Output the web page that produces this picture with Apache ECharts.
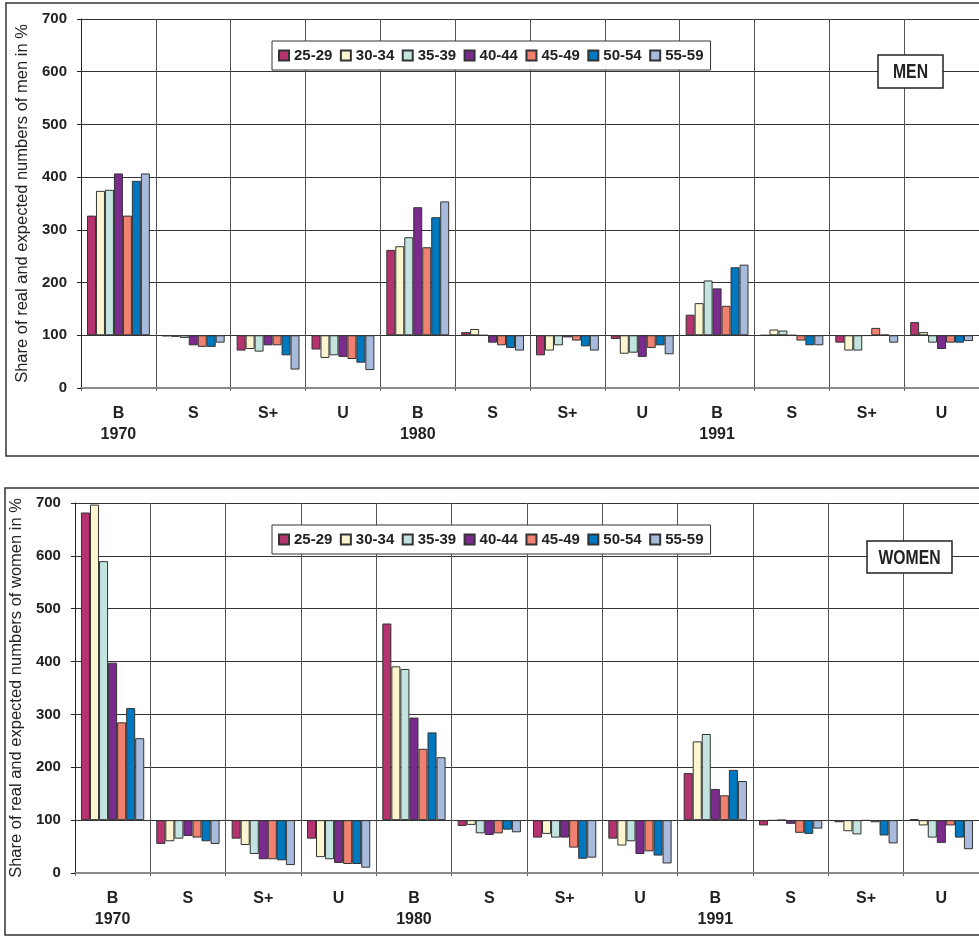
<!DOCTYPE html>
<html>
<head>
<meta charset="utf-8">
<script src="https://cdn.jsdelivr.net/npm/echarts@6/dist/echarts.min.js"></script>
<style>
html,body{margin:0;padding:0;background:#fff;}
#chart{width:979px;height:937px;}
</style>
</head>
<body>
<div id="chart"></div>
<script>
// ---- data ----
var groups = ['B','S','S+','U','B','S','S+','U','B','S','S+','U'];
var years  = ['1970','','','','1980','','','','1991','','',''];
var ages   = ['25-29','30-34','35-39','40-44','45-49','50-54','55-59'];
var colors = ['#B5336E','#FBF6CF','#C2E3E0','#7B2A8E','#F08070','#0078C0','#A9BBDD'];
var yTicks = [0,100,200,300,400,500,600,700];
var baseLine = 100;

var men_25_29 = [327, 98, 71, 73, 262, 106, 62, 93, 139, 100, 86, 125];
var men_30_34 = [374, 97, 74, 57, 269, 112, 71, 65, 161, 111, 71, 106];
var men_35_39 = [376, 95, 69, 62, 286, 100, 81, 67, 204, 109, 71, 86];
var men_40_44 = [407, 81, 81, 59, 343, 86, 96, 59, 189, 100, 99, 74];
var men_45_49 = [327, 78, 81, 55, 267, 81, 90, 76, 156, 90, 114, 86];
var men_50_54 = [393, 78, 62, 48, 324, 76, 79, 81, 229, 81, 101, 86];
var men_55_59 = [407, 86, 35, 34, 354, 71, 71, 64, 234, 81, 86, 89];

var women_25_29 = [682, 55, 65, 65, 472, 89, 67, 65, 189, 90, 96, 102];
var women_30_34 = [697, 60, 53, 30, 391, 91, 74, 52, 249, 99, 79, 90];
var women_35_39 = [590, 65, 36, 26, 386, 75, 67, 60, 263, 100, 73, 67];
var women_40_44 = [398, 70, 26, 19, 294, 72, 67, 36, 159, 93, 99, 57];
var women_45_49 = [285, 67, 26, 17, 235, 75, 48, 41, 147, 76, 96, 90];
var women_50_54 = [312, 60, 24, 17, 266, 82, 27, 33, 195, 74, 71, 67];
var women_55_59 = [255, 55, 15, 10, 219, 77, 29, 18, 174, 84, 56, 45];

var menData = [men_25_29, men_30_34, men_35_39, men_40_44, men_45_49, men_50_54, men_55_59];
var womenData = [women_25_29, women_30_34, women_35_39, women_40_44, women_45_49, women_50_54, women_55_59];

// ---- chart ----
var FONT = '"Liberation Sans", Arial, sans-serif';
var catLabels = groups.map(function (g, i) { return years[i] ? g + '\n' + years[i] : g; });

function xAxis(idx) {
  return {
    type: 'category', gridIndex: idx, data: catLabels,
    axisLine: { onZero: false, lineStyle: { color: '#8a8a8a', width: 2 } },
    axisTick: { show: true, length: 3, lineStyle: { color: '#666' } },
    axisLabel: { interval: 0, margin: 15, fontFamily: FONT, fontWeight: 'bold', fontSize: 16, color: '#222', lineHeight: 21 },
    splitLine: { show: true, interval: 0, lineStyle: { color: '#555', width: 1 } }
  };
}
function yAxis(idx, name, gap) {
  return {
    type: 'value', gridIndex: idx, min: yTicks[0] - baseLine, max: yTicks[yTicks.length - 1] - baseLine, interval: 100,
    name: name, nameLocation: 'middle', nameGap: gap,
    nameTextStyle: { fontFamily: FONT, fontSize: 16.5, color: '#222' },
    axisLine: { show: true, lineStyle: { color: '#222', width: 1 } },
    axisTick: { show: true, length: 4, lineStyle: { color: '#222' } },
    axisLabel: { margin: 14, fontFamily: FONT, fontWeight: 'bold', fontSize: 15, color: '#222',
      formatter: function (v) { return String(v + baseLine); } },
    splitLine: { show: true, lineStyle: { color: '#333', width: 1 } }
  };
}
function legend(top) {
  return {
    data: ages, left: 272, top: top, orient: 'horizontal',
    itemWidth: 10, itemHeight: 10, itemGap: 7.5, icon: 'rect',
    padding: [7, 7, 7, 6],
    borderColor: '#333', borderWidth: 1, backgroundColor: '#fff',
    textStyle: { fontFamily: FONT, fontWeight: 'bold', fontSize: 15, color: '#222' },
    selectedMode: false
  };
}
function labelBox(text, x, y, w, h) {
  return [
    { type: 'rect', shape: { x: x, y: y, width: w, height: h },
      style: { fill: '#fff', stroke: '#222', lineWidth: 1.5 }, z: 100, silent: true },
    { type: 'text', x: x + w / 2, y: y + h / 2 + 1, scaleX: 0.75, z: 101, silent: true,
      style: { text: text, fill: '#222', font: 'bold 21px ' + FONT, textAlign: 'center', textVerticalAlign: 'middle' } }
  ];
}

var series = [];
[menData, womenData].forEach(function (panel, p) {
  panel.forEach(function (vals, i) {
    series.push({
      type: 'bar', name: ages[i], xAxisIndex: p, yAxisIndex: p,
      data: vals.map(function (v) { return v - baseLine; }),
      barGap: '0%', barCategoryGap: '16%',
      itemStyle: { color: colors[i], borderColor: '#333', borderWidth: 1 },
      emphasis: { disabled: true },
      animation: false
    });
  });
});

var option = {
  backgroundColor: '#fff',
  animation: false,
  grid: [
    { left: 81, top: 19, width: 905, height: 369, containLabel: false },
    { left: 73, top: 503, width: 906, height: 370, containLabel: false }
  ],
  xAxis: [xAxis(0), xAxis(1)],
  yAxis: [
    yAxis(0, 'Share of real and expected numbers of men in %', 49),
    yAxis(1, 'Share of real and expected numbers of women in %', 44)
  ],
  legend: [legend(41), legend(525)],
  graphic: [
    { type: 'rect', shape: { x: 6, y: 3, width: 1000, height: 453 }, style: { fill: 'none', stroke: '#333', lineWidth: 1.5 }, z: 100, silent: true },
    { type: 'rect', shape: { x: 5, y: 488, width: 1000, height: 447 }, style: { fill: 'none', stroke: '#333', lineWidth: 1.5 }, z: 100, silent: true }
  ].concat(labelBox('MEN', 878, 55, 65, 33)).concat(labelBox('WOMEN', 867, 541, 85, 32)),
  series: series
};

var chart = echarts.init(document.getElementById('chart'), null, { renderer: 'canvas' });
chart.setOption(option);
</script>
</body>
</html>
